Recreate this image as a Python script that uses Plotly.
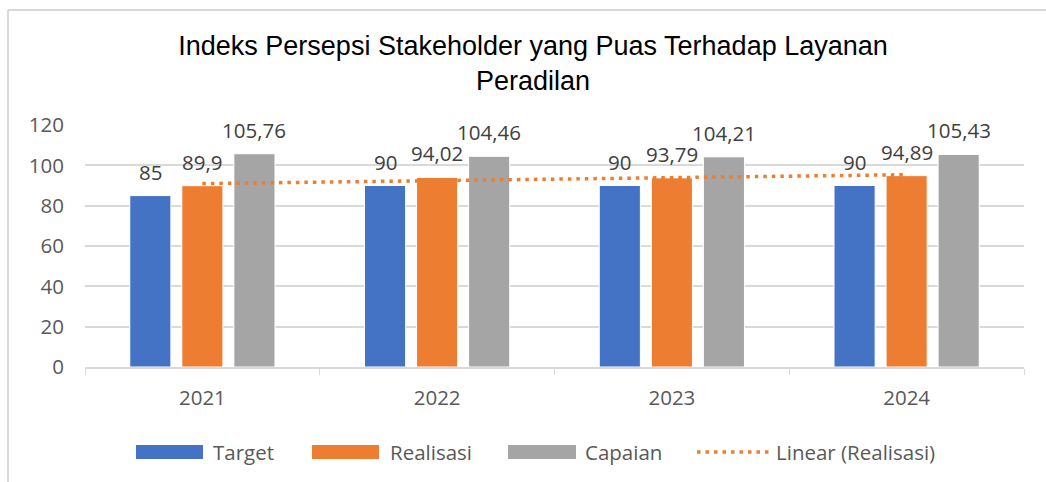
import numpy as np
import plotly.graph_objects as go

years = ["2021", "2022", "2023", "2024"]
target = [85, 90, 90, 90]
realisasi = [89.9, 94.02, 93.79, 94.89]
capaian = [105.76, 104.46, 104.21, 105.43]

W, H = 1046, 482
ML, MR, MT, MB = 85, 22, 125, 115
PW, PH = W - ML - MR, H - MT - MB
BARGAP, GROUPGAP = 0.335, 0.21
SLOT = PW / len(years) * (1 - BARGAP) / 3

def fmt(v):
    return ("%g" % v).replace(".", ",")

def px_x(p):
    return (p - ML) / PW

def px_y(p):
    return (H - MB - p) / PH

FONT = "Open Sans"
FS = 20.5
GREY_TXT = "#595959"

series = [("Target", target, "#4472C4"),
          ("Realisasi", realisasi, "#ED7D31"),
          ("Capaian", capaian, "#A5A5A5")]

fig = go.Figure()
annotations = []
for si, (name, vals, col) in enumerate(series):
    fig.add_trace(go.Bar(
        x=years, y=vals, name=name, showlegend=False,
        marker=dict(color=col, line=dict(color="white", width=1)),
    ))
    for ci, v in enumerate(vals):
        # category axis: annotation x given as category index
        annotations.append(dict(
            x=ci, y=v, xref="x", yref="y", text=fmt(v), showarrow=False,
            xshift=(si - 1) * SLOT, yshift=24, yanchor="middle", xanchor="center",
            font=dict(family=FONT, size=FS, color="#404040"),
        ))

xi = np.arange(1, len(realisasi) + 1)
k, b = np.polyfit(xi, realisasi, 1)
trend = k * xi + b
TREND_LINE = dict(color="#ED7D31", width=3.5, dash="3.5px,5px")
fig.add_trace(go.Scatter(
    x=years, y=trend, mode="lines", name="Linear (Realisasi)", showlegend=False,
    line=TREND_LINE,
))

# custom legend (wide swatches like the original)
shapes = [
    dict(type="line", xref="paper", yref="paper", x0=px_x(8), x1=px_x(W + 5),
         y0=px_y(10), y1=px_y(10), line=dict(color="#D9D9D9", width=2)),
    dict(type="line", xref="paper", yref="paper", x0=px_x(8), x1=px_x(8),
         y0=px_y(10), y1=px_y(H + 5), line=dict(color="#D9D9D9", width=2)),
]
LEG_Y = 452
legend_items = [("Target", "#4472C4", 136, 203, 211),
                ("Realisasi", "#ED7D31", 312, 379, 388),
                ("Capaian", "#A5A5A5", 508, 576, 583)]
for label, col, sx0, sx1, tx in legend_items:
    shapes.append(dict(type="rect", xref="paper", yref="paper",
                       x0=px_x(sx0), x1=px_x(sx1), y0=px_y(LEG_Y + 7), y1=px_y(LEG_Y - 7),
                       fillcolor=col, line=dict(width=0)))
    annotations.append(dict(x=px_x(tx), y=px_y(LEG_Y), xref="paper", yref="paper",
                            text=label, showarrow=False, xanchor="left", yanchor="middle",
                            font=dict(family=FONT, size=FS, color=GREY_TXT)))
shapes.append(dict(type="line", xref="paper", yref="paper",
                   x0=px_x(697), x1=px_x(769), y0=px_y(LEG_Y), y1=px_y(LEG_Y),
                   line=TREND_LINE))
annotations.append(dict(x=px_x(774), y=px_y(LEG_Y), xref="paper", yref="paper",
                        text="Linear (Realisasi)", showarrow=False, xanchor="left",
                        yanchor="middle", font=dict(family=FONT, size=FS, color=GREY_TXT)))

fig.update_layout(
    width=W, height=H,
    margin=dict(l=ML, r=MR, t=MT, b=MB),
    paper_bgcolor="white", plot_bgcolor="white",
    barmode="group", bargap=BARGAP, bargroupgap=GROUPGAP,
    title=dict(text="Indeks Persepsi Stakeholder yang Puas Terhadap Layanan<br>Peradilan",
               x=0.5096, xanchor="center", y=1 - 55 / H, yanchor="middle",
               font=dict(family="Liberation Sans", size=27, color="#000000")),
    showlegend=False,
    xaxis=dict(type="category", categoryarray=years, categoryorder="array",
               range=[-0.5, len(years) - 0.5],
               showline=True, linecolor="#D9D9D9", linewidth=1.5,
               ticks="outside", tickson="boundaries", ticklen=6, tickcolor="#D9D9D9",
               ticklabelstandoff=12,
               tickfont=dict(family=FONT, size=FS, color=GREY_TXT), showgrid=False),
    yaxis=dict(range=[0, 120], dtick=20, showgrid=True, gridcolor="#D9D9D9", gridwidth=1.5,
               showline=False, zeroline=False, ticks="", ticklabelstandoff=20,
               tickfont=dict(family=FONT, size=FS, color=GREY_TXT)),
    shapes=shapes,
    annotations=annotations,
)

fig.write_html("out.html")
